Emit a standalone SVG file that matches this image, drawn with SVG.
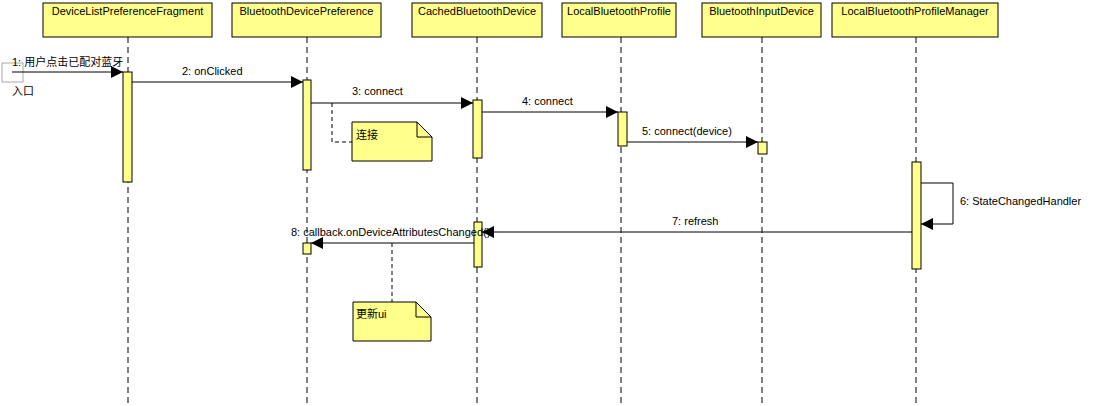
<svg xmlns="http://www.w3.org/2000/svg" width="1097" height="406" viewBox="0 0 1097 406">
<style>
text{font-family:"Liberation Sans",Arial,"Noto Sans CJK SC",sans-serif;font-size:11px;fill:#000}
.head{fill:#ffff8c;stroke:#000;stroke-width:1}
.life{stroke:#000;stroke-dasharray:6,4;fill:none}
.act{fill:#ffff8c;stroke:#000;stroke-width:1}
.msg{stroke:#000;stroke-width:1;fill:none}
.note{fill:#ffff8c;stroke:#000}
.dash{stroke:#000;stroke-dasharray:4,3;fill:none}
</style>
<defs>
<marker id="arr" viewBox="0 0 12 12" refX="12" refY="6" markerWidth="12" markerHeight="12" markerUnits="userSpaceOnUse" orient="auto">
<path d="M0,0 L12,6 L0,12 Z" fill="#000"/>
</marker>
</defs>
<rect width="1097" height="406" fill="#fff"/>
<g id="lifelines">
<line class="life" x1="128" y1="37" x2="128" y2="406"/>
<line class="life" x1="307" y1="37" x2="307" y2="406"/>
<line class="life" x1="477" y1="37" x2="477" y2="406"/>
<line class="life" x1="621" y1="37" x2="621" y2="406"/>
<line class="life" x1="762" y1="37" x2="762" y2="406"/>
<line class="life" x1="916" y1="37" x2="916" y2="406"/>
</g>
<g id="DeviceListPreferenceFragment">
<rect class="head" x="43" y="3" width="169" height="34"/>
<text x="127.5" y="15" text-anchor="middle">DeviceListPreferenceFragment</text>
<rect class="act" x="123" y="72" width="9" height="110"/>
</g>
<g id="BluetoothDevicePreference">
<rect class="head" x="232" y="3" width="149" height="34"/>
<text x="306.5" y="15" text-anchor="middle">BluetoothDevicePreference</text>
<rect class="act" x="303" y="80" width="8" height="90"/>
<rect class="act" x="303" y="243" width="8" height="11"/>
</g>
<g id="CachedBluetoothDevice">
<rect class="head" x="412" y="3" width="130" height="34"/>
<text x="477" y="15" text-anchor="middle">CachedBluetoothDevice</text>
<rect class="act" x="473" y="100" width="9" height="58"/>
<rect class="act" x="474" y="222" width="8" height="45"/>
</g>
<g id="LocalBluetoothProfile">
<rect class="head" x="562" y="3" width="114" height="34"/>
<text x="619" y="15" text-anchor="middle">LocalBluetoothProfile</text>
<rect class="act" x="618" y="112" width="9" height="34"/>
</g>
<g id="BluetoothInputDevice">
<rect class="head" x="702" y="3" width="119" height="34"/>
<text x="761.5" y="15" text-anchor="middle">BluetoothInputDevice</text>
<rect class="act" x="758" y="142" width="9" height="12"/>
</g>
<g id="LocalBluetoothProfileManager">
<rect class="head" x="832" y="3" width="166" height="34"/>
<text x="915" y="15" text-anchor="middle">LocalBluetoothProfileManager</text>
<rect class="act" x="912" y="162" width="9" height="107"/>
</g>
<g id="entry">
<rect x="2" y="63" width="21" height="19" fill="none" stroke="#aaa"/>
<text x="12" y="95">入口</text>
</g>
<g id="note-connect">
<path class="note" d="M352,122 L417,122 L432,137 L432,161 L352,161 Z"/>
<path d="M417,122 L417,137 L432,137" fill="none" stroke="#000"/>
<text x="356" y="139">连接</text>
</g>
<g id="note-update">
<path class="note" d="M353,302 L416,302 L431,317 L431,341 L353,341 Z"/>
<path d="M416,302 L416,317 L431,317" fill="none" stroke="#000"/>
<text x="356" y="318">更新ui</text>
</g>
<g id="connectors">
<line class="msg" x1="12" y1="72" x2="123" y2="72" marker-end="url(#arr)"/>
<text x="12" y="66">1: 用户点击已配对蓝牙</text>
<line class="msg" x1="132" y1="82" x2="303" y2="82" marker-end="url(#arr)"/>
<text x="182" y="75">2: onClicked</text>
<line class="msg" x1="311" y1="103" x2="473" y2="103" marker-end="url(#arr)"/>
<text x="352" y="95">3: connect</text>
<path class="dash" d="M332,103 L332,142 L352,142"/>
<line class="msg" x1="482" y1="112" x2="618" y2="112" marker-end="url(#arr)"/>
<text x="522" y="105">4: connect</text>
<line class="msg" x1="627" y1="142" x2="758" y2="142" marker-end="url(#arr)"/>
<text x="642" y="135">5: connect(device)</text>
<path class="msg" d="M921,183 L953,183 L953,224 L921,224" marker-end="url(#arr)"/>
<text x="960" y="205">6: StateChangedHandler</text>
<line class="msg" x1="912" y1="232" x2="482" y2="232" marker-end="url(#arr)"/>
<text x="672" y="225">7: refresh</text>
<line class="msg" x1="474" y1="243" x2="311" y2="243" marker-end="url(#arr)"/>
<text x="291" y="236">8: callback.onDeviceAttributesChanged()</text>
<line class="dash" x1="392" y1="243" x2="392" y2="302"/>
</g>
</svg>
